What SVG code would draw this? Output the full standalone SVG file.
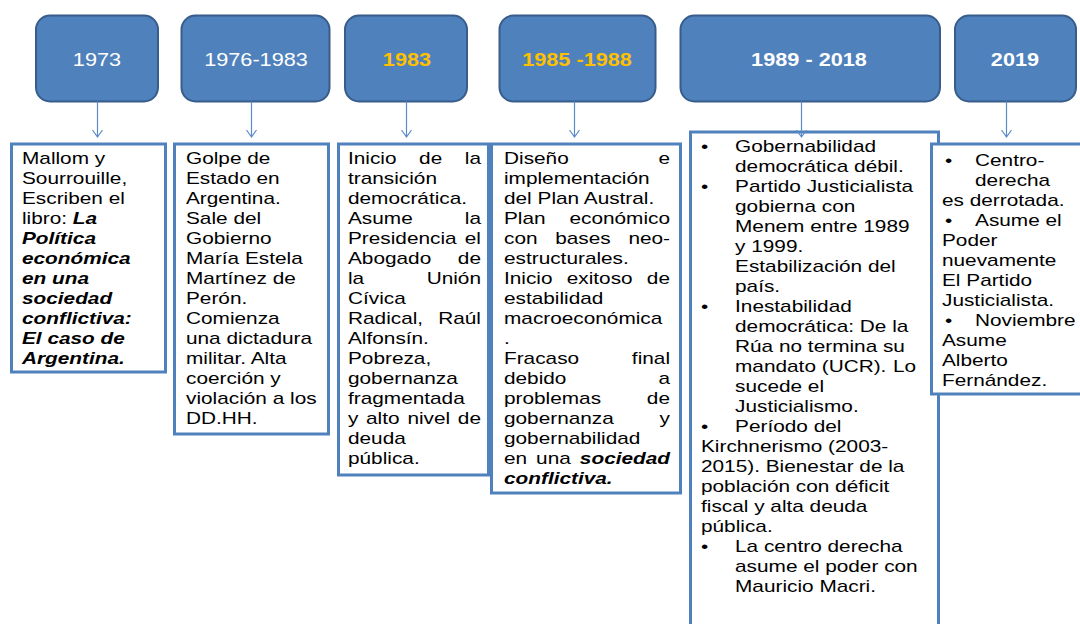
<svg xmlns="http://www.w3.org/2000/svg" width="1080" height="624" viewBox="0 0 1080 624">
<style>
  .hdr { fill: #4F81BD; stroke: #385D8A; stroke-width: 2; }
  .box { fill: #FFFFFF; stroke: #4F81BD; stroke-width: 3; }
  .ht { font-family: "Liberation Sans", Arial, sans-serif; font-size: 17.5px; fill: #FFFFFF; text-anchor: middle; }
  .hy { fill: #FFC000; }
  .b { font-weight: bold; }
  .t { font-family: "Liberation Sans", Arial, sans-serif; font-size: 16px; fill: #000000; }
  .bi { font-weight: bold; font-style: italic; }
  .e { text-anchor: end; }
  .arr { stroke: #5B8BC9; stroke-width: 1.2; fill: none; }
</style>
<rect width="1080" height="624" fill="#FFFFFF"/>

<g id="h1973">
  <rect class="hdr" x="36" y="15.5" width="122" height="86" rx="14"/>
  <text class="ht" transform="translate(97 66) scale(1.24 1)">1973</text>
</g>
<g id="h1976">
  <rect class="hdr" x="181.5" y="15.5" width="148" height="86" rx="14"/>
  <text class="ht" transform="translate(256 66) scale(1.24 1)">1976-1983</text>
</g>
<g id="h1983">
  <rect class="hdr" x="345" y="15.5" width="122" height="86" rx="14"/>
  <text class="ht hy b" transform="translate(407 66) scale(1.24 1)">1983</text>
</g>
<g id="h1985">
  <rect class="hdr" x="499.5" y="15.5" width="156" height="86" rx="14"/>
  <text class="ht hy b" transform="translate(577 66) scale(1.24 1)">1985 -1988</text>
</g>
<g id="h1989">
  <rect class="hdr" x="680.5" y="15.5" width="259.5" height="86" rx="14"/>
  <text class="ht b" transform="translate(809 66) scale(1.24 1)">1989 - 2018</text>
</g>
<g id="h2019">
  <rect class="hdr" x="955" y="15.5" width="121" height="86" rx="14"/>
  <text class="ht b" transform="translate(1015 66) scale(1.24 1)">2019</text>
</g>

<g id="box1973">
  <rect class="box" x="11.5" y="144" width="154" height="228"/>
  <g class="t" transform="translate(22 0) scale(1.3 1)">
    <text x="0" y="164">Mallom y</text>
    <text x="0" y="184">Sourrouille,</text>
    <text x="0" y="204">Escriben el</text>
    <text x="0" y="224">libro: <tspan class="bi">La</tspan></text>
    <text class="bi" x="0" y="244">Política</text>
    <text class="bi" x="0" y="264">económica</text>
    <text class="bi" x="0" y="284">en una</text>
    <text class="bi" x="0" y="304">sociedad</text>
    <text class="bi" x="0" y="324">conflictiva:</text>
    <text class="bi" x="0" y="344">El caso de</text>
    <text class="bi" x="0" y="364">Argentina.</text>
  </g>
</g>

<g id="box1976">
  <rect class="box" x="174.5" y="144" width="154" height="290"/>
  <g class="t" transform="translate(186 0) scale(1.3 1)">
    <text x="0" y="164">Golpe de</text>
    <text x="0" y="184">Estado en</text>
    <text x="0" y="204">Argentina.</text>
    <text x="0" y="224">Sale del</text>
    <text x="0" y="244">Gobierno</text>
    <text x="0" y="264">María Estela</text>
    <text x="0" y="284">Martínez de</text>
    <text x="0" y="304">Perón.</text>
    <text x="0" y="324">Comienza</text>
    <text x="0" y="344">una dictadura</text>
    <text x="0" y="364">militar. Alta</text>
    <text x="0" y="384">coerción y</text>
    <text x="0" y="404">violación a los</text>
    <text x="0" y="424">DD.HH.</text>
  </g>
</g>

<g id="box1983">
  <rect class="box" x="338.5" y="144" width="150" height="331"/>
  <g class="t" transform="translate(348 0) scale(1.3 1)">
    <text x="0" y="164">Inicio</text><text x="54.7" y="164">de</text><text class="e" x="102.3" y="164">la</text>
    <text x="0" y="184">transición</text>
    <text x="0" y="204">democrática.</text>
    <text x="0" y="224">Asume</text><text class="e" x="102.3" y="224">la</text>
    <text x="0" y="244">Presidencia</text><text class="e" x="102.3" y="244">el</text>
    <text x="0" y="264">Abogado</text><text class="e" x="102.3" y="264">de</text>
    <text x="0" y="284">la</text><text class="e" x="102.3" y="284">Unión</text>
    <text x="0" y="304">Cívica</text>
    <text x="0" y="324">Radical,</text><text class="e" x="102.3" y="324">Raúl</text>
    <text x="0" y="344">Alfonsín.</text>
    <text x="0" y="364">Pobreza,</text>
    <text x="0" y="384">gobernanza</text>
    <text x="0" y="404">fragmentada</text>
    <text x="0" y="424">y</text><text x="13.9" y="424">alto</text><text x="45.7" y="424">nivel</text><text class="e" x="102.3" y="424">de</text>
    <text x="0" y="444">deuda</text>
    <text x="0" y="464">pública.</text>
  </g>
</g>

<g id="box1985">
  <rect class="box" x="491.5" y="144" width="189" height="349"/>
  <g class="t" transform="translate(504 0) scale(1.3 1)">
    <text x="0" y="164">Diseño</text><text class="e" x="127.7" y="164">e</text>
    <text x="0" y="184">implementación</text>
    <text x="0" y="204">del Plan Austral.</text>
    <text x="0" y="224">Plan</text><text class="e" x="127.7" y="224">económico</text>
    <text x="0" y="244">con</text><text x="39.4" y="244">bases</text><text class="e" x="127.7" y="244">neo-</text>
    <text x="0" y="264">estructurales.</text>
    <text x="0" y="284">Inicio</text><text x="48.3" y="284">exitoso</text><text class="e" x="127.7" y="284">de</text>
    <text x="0" y="304">estabilidad</text>
    <text x="0" y="324">macroeconómica</text>
    <text x="0" y="344">.</text>
    <text x="0" y="364">Fracaso</text><text class="e" x="127.7" y="364">final</text>
    <text x="0" y="384">debido</text><text class="e" x="127.7" y="384">a</text>
    <text x="0" y="404">problemas</text><text class="e" x="127.7" y="404">de</text>
    <text x="0" y="424">gobernanza</text><text class="e" x="127.7" y="424">y</text>
    <text x="0" y="444">gobernabilidad</text>
    <text x="0" y="464">en</text><text x="24.7" y="464">una</text><text class="e bi" x="127.7" y="464">sociedad</text>
    <text class="bi" x="0" y="484">conflictiva.</text>
  </g>
</g>

<g id="box1989">
  <rect class="box" x="690.5" y="132" width="248" height="520"/>
  <g class="t" transform="translate(701 0) scale(1.3 1)">
    <text x="0" y="152">•</text><text x="26.2" y="152">Gobernabilidad</text>
    <text x="26.2" y="172">democrática débil.</text>
    <text x="0" y="192">•</text><text x="26.2" y="192">Partido Justicialista</text>
    <text x="26.2" y="212">gobierna con</text>
    <text x="26.2" y="232">Menem entre 1989</text>
    <text x="26.2" y="252">y 1999.</text>
    <text x="26.2" y="272">Estabilización del</text>
    <text x="26.2" y="292">país.</text>
    <text x="0" y="312">•</text><text x="26.2" y="312">Inestabilidad</text>
    <text x="26.2" y="332">democrática: De la</text>
    <text x="26.2" y="352">Rúa no termina su</text>
    <text x="26.2" y="372">mandato (UCR).</text><text x="147.7" y="372">Lo</text>
    <text x="26.2" y="392">sucede el</text>
    <text x="26.2" y="412">Justicialismo.</text>
    <text x="0" y="432">•</text><text x="26.2" y="432">Período del</text>
    <text x="0" y="452">Kirchnerismo (2003-</text>
    <text x="0" y="472">2015). Bienestar de la</text>
    <text x="0" y="492">población con déficit</text>
    <text x="0" y="512">fiscal y alta deuda</text>
    <text x="0" y="532">pública.</text>
    <text x="0" y="552">•</text><text x="26.2" y="552">La centro derecha</text>
    <text x="26.2" y="572">asume el poder con</text>
    <text x="26.2" y="592">Mauricio Macri.</text>
  </g>
</g>

<g id="box2019">
  <rect class="box" x="931.5" y="144" width="160" height="250"/>
  <g class="t" transform="translate(942 0) scale(1.3 1)">
    <text x="2.3" y="166">•</text><text x="25.4" y="166">Centro-</text>
    <text x="25.4" y="186">derecha</text>
    <text x="0" y="206">es derrotada.</text>
    <text x="2.3" y="226">•</text><text x="25.4" y="226">Asume el</text>
    <text x="0" y="246">Poder</text>
    <text x="0" y="266">nuevamente</text>
    <text x="0" y="286">El Partido</text>
    <text x="0" y="306">Justicialista.</text>
    <text x="2.3" y="326">•</text><text x="25.4" y="326">Noviembre</text>
    <text x="0" y="346">Asume</text>
    <text x="0" y="366">Alberto</text>
    <text x="0" y="386">Fernández.</text>
  </g>
</g>

<g id="connectors" class="arr">
  <path d="M97.5 101.6 V137 M92.5 130 L97.5 137 L102.5 130"/>
  <path d="M251.5 101.6 V137 M246.5 130 L251.5 137 L256.5 130"/>
  <path d="M406.5 101.6 V137 M401.5 130 L406.5 137 L411.5 130"/>
  <path d="M574.5 101.6 V137 M569.5 130 L574.5 137 L579.5 130"/>
  <path d="M801.5 101.6 V137 M796.5 130 L801.5 137 L806.5 130"/>
  <path d="M1006.5 101.6 V137 M1001.5 130 L1006.5 137 L1011.5 130"/>
</g>
</svg>
